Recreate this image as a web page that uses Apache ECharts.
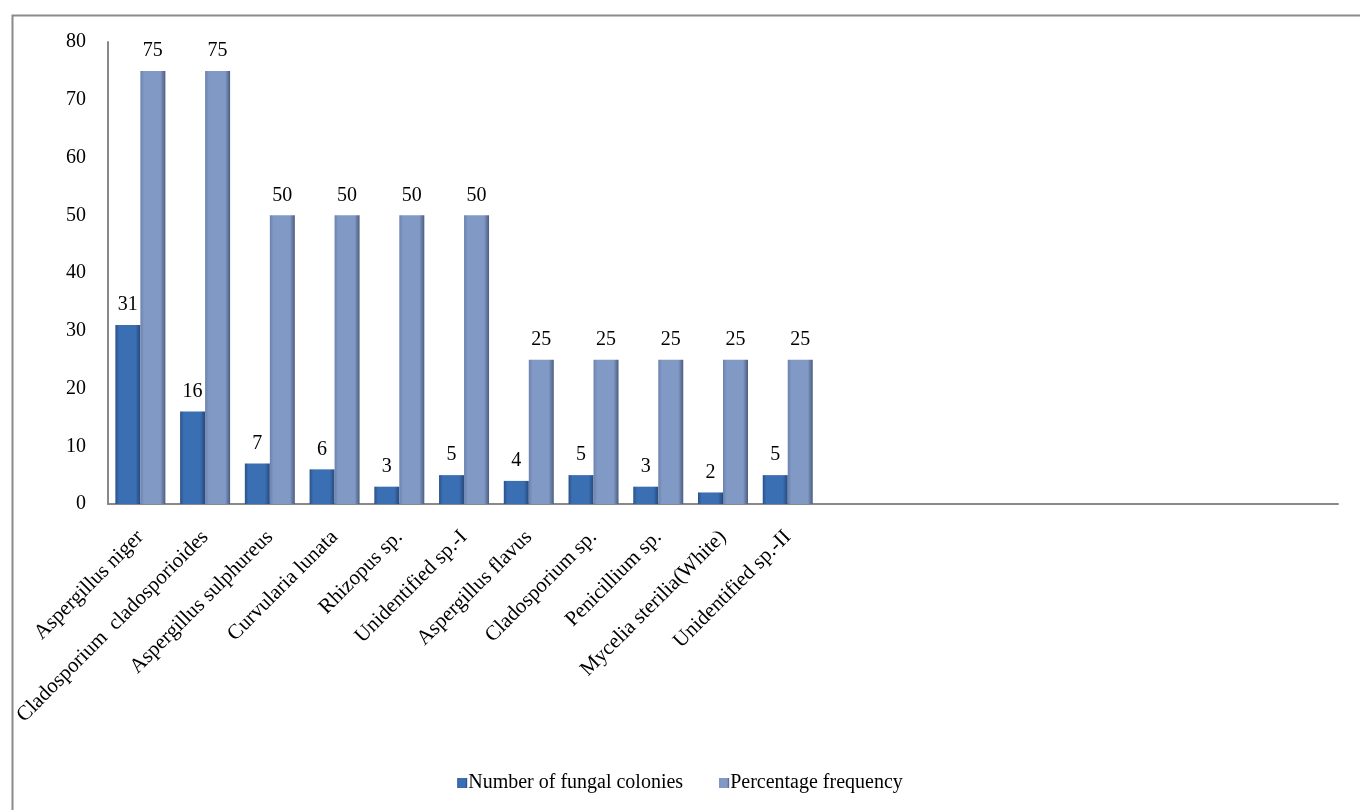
<!DOCTYPE html>
<html>
<head>
<meta charset="utf-8">
<script src="https://cdn.jsdelivr.net/npm/echarts@6/dist/echarts.min.js"></script>
<style>html,body{margin:0;padding:0;background:#fff;}#c{width:1360px;height:810px;}</style>
</head>
<body>
<div id="c"></div>
<script>
const categories = ["Aspergillus niger", "Cladosporium  cladosporioides", "Aspergillus sulphureus", "Curvularia lunata", "Rhizopus sp.", "Unidentified sp.-I", "Aspergillus flavus", "Cladosporium sp.", "Penicillium sp.", "Mycelia sterilia(White)", "Unidentified sp.-II", "", "", "", "", "", "", "", ""];
const colonies = [31, 16, 7, 6, 3, 5, 4, 5, 3, 2, 5];
const frequency = [75, 75, 50, 50, 50, 50, 25, 25, 25, 25, 25];
const yTicks = [0, 80, 10];

const font = '"Liberation Serif", "Times New Roman", serif';
const chart = echarts.init(document.getElementById('c'));
function grad(a, b, c) {
  return new echarts.graphic.LinearGradient(0, 0, 1, 0, [
    {offset: 0, color: a}, {offset: 0.15, color: b}, {offset: 0.8, color: b}, {offset: 1, color: c}
  ]);
}
chart.setOption({
  animation: false,
  backgroundColor: '#fff',
  graphic: [{
    type: 'rect', left: 10, top: 13, shape: {width: 1400, height: 900},
    style: {fill: 'none', stroke: '#8a8a8a', lineWidth: 2}, silent: true
  }],
  grid: {left: 108, right: 22, top: 42, bottom: 306, containLabel: false},
  legend: {
    top: 768, left: 'center', icon: 'rect', itemWidth: 10, itemHeight: 10, itemGap: 36,
    textStyle: {fontFamily: font, fontSize: 20, color: '#000', padding: [0, 0, 0, -4]},
    data: ['Number of fungal colonies', 'Percentage frequency']
  },
  xAxis: {
    type: 'category', data: categories,
    axisLine: {lineStyle: {color: '#888', width: 2}},
    axisTick: {show: false},
    axisLabel: {interval: 0, rotate: 45, fontFamily: font, fontSize: 21, color: '#000', margin: 30}
  },
  yAxis: {
    type: 'value', min: yTicks[0], max: yTicks[1], interval: yTicks[2],
    axisLine: {show: true, lineStyle: {color: '#888', width: 2}},
    axisTick: {show: false},
    splitLine: {show: false},
    axisLabel: {fontFamily: font, fontSize: 20, color: '#000', margin: 22}
  },
  series: [{
    name: 'Number of fungal colonies', type: 'bar', data: colonies,
    barWidth: 25, barGap: '0%',
    itemStyle: {color: grad('#2a5188', '#3a6fb4', '#27497a')},
    label: {show: true, position: 'top', distance: 10, fontFamily: font, fontSize: 20, color: '#000'}
  }, {
    name: 'Percentage frequency', type: 'bar', data: frequency,
    barWidth: 25,
    itemStyle: {color: grad('#6a82ac', '#8199c5', '#4b5d80')},
    label: {show: true, position: 'top', distance: 10, fontFamily: font, fontSize: 20, color: '#000'}
  }]
});
</script>
</body>
</html>
